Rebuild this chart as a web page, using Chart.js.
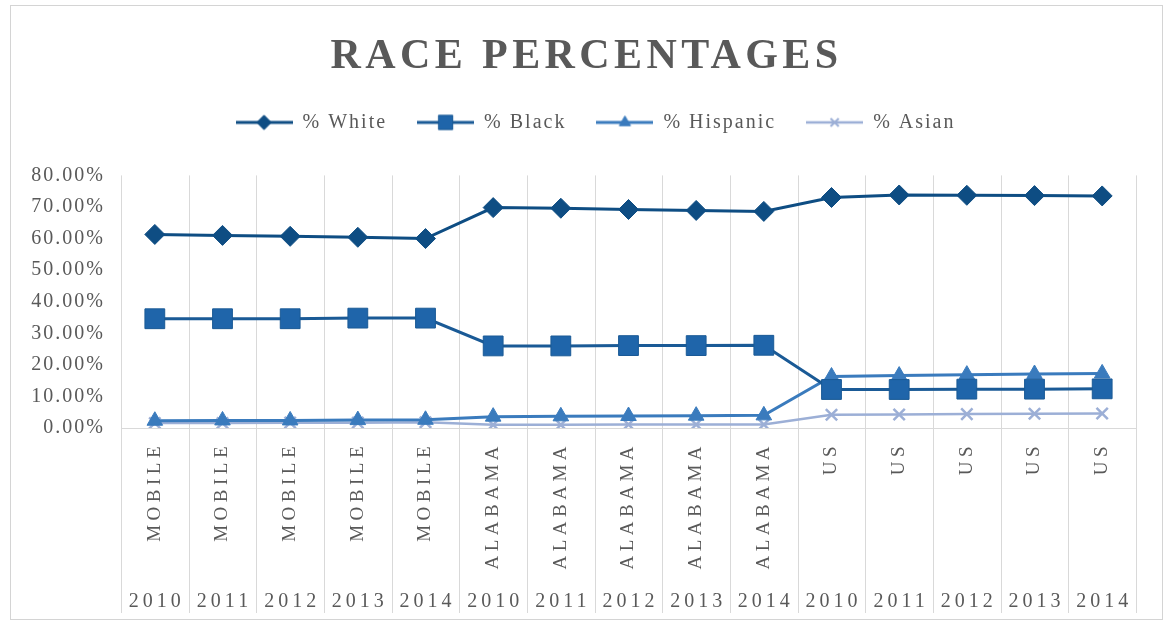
<!DOCTYPE html>
<html>
<head>
<meta charset="utf-8">
<script src="https://cdn.jsdelivr.net/npm/chart.js@4"></script>
<style>
    html, body { margin: 0; padding: 0; background: #fff; }
    .frame {
        position: absolute;
        left: 10px;
        top: 5px;
        width: 1153px;
        height: 615px;
        border: 1px solid #d4d4d4;
        box-sizing: border-box;
    }
    .frame canvas { display: block; }
</style>
</head>
<body>
<div class="frame"><canvas id="raceChart" width="1151" height="613"></canvas></div>
<script>
(function () {
    const places = ['MOBILE', 'MOBILE', 'MOBILE', 'MOBILE', 'MOBILE',
        'ALABAMA', 'ALABAMA', 'ALABAMA', 'ALABAMA', 'ALABAMA',
        'US', 'US', 'US', 'US', 'US'];
    const years = ['2010', '2011', '2012', '2013', '2014',
        '2010', '2011', '2012', '2013', '2014',
        '2010', '2011', '2012', '2013', '2014'];
    const yTicks = [0, 10, 20, 30, 40, 50, 60, 70, 80];

    const white = [61.3, 61.0, 60.7, 60.4, 60.0, 69.8, 69.6, 69.2, 68.9, 68.6, 73.0, 73.8, 73.7, 73.6, 73.5];
    const black = [34.6, 34.6, 34.6, 34.8, 34.8, 26.0, 26.0, 26.1, 26.1, 26.2, 12.2, 12.2, 12.3, 12.3, 12.4];
    const hispanic = [2.3, 2.4, 2.4, 2.5, 2.6, 3.6, 3.7, 3.8, 3.9, 4.0, 16.3, 16.6, 16.9, 17.1, 17.3];
    const asian = [1.6, 1.6, 1.7, 1.7, 1.8, 1.0, 1.0, 1.1, 1.1, 1.1, 4.2, 4.3, 4.4, 4.5, 4.6];

    const SERIF = "'Liberation Serif', 'DejaVu Serif', serif";
    const TEXT = '#595959';
    const GRID = '#d9d9d9';

    const series = [
        { label: '% White', data: white, color: '#0e4d83', fill: '#0e4d83', style: 'rectRot', radius: 10, width: 3 },
        { label: '% Black', data: black, color: '#1a5a96', fill: '#1f65aa', style: 'rect', radius: 14, width: 3 },
        { label: '% Hispanic', data: hispanic, color: '#3a7bbd', fill: '#3a7bbd', style: 'triangle', radius: 9, width: 3 },
        { label: '% Asian', data: asian, color: '#9cafd6', fill: '#9cafd6', style: 'crossRot', radius: 8, width: 2.5 }
    ];

    // small "line + marker" swatch for the legend, Excel style
    function legendSwatch(s) {
        const c = document.createElement('canvas');
        c.width = 57;
        c.height = 22;
        const ctx = c.getContext('2d');
        ctx.strokeStyle = s.color;
        ctx.lineWidth = s.width;
        ctx.beginPath();
        ctx.moveTo(0, 11);
        ctx.lineTo(57, 11);
        ctx.stroke();
        ctx.fillStyle = s.fill;
        ctx.strokeStyle = s.color;
        ctx.lineWidth = s.style === 'crossRot' ? 2 : 1;
        Chart.helpers.drawPoint(ctx, {
            pointStyle: s.style,
            radius: s.radius * 0.72,
            rotation: 0,
            borderWidth: ctx.lineWidth
        }, 28.5, 11);
        return c;
    }

    function shiftDraw(box, dx, spacingPx) {
        const draw = box.draw;
        box.draw = function () {
            const ctx = this.ctx;
            const prev = ctx.letterSpacing;
            ctx.save();
            ctx.translate(dx, 0);
            if (spacingPx) ctx.letterSpacing = spacingPx;
            draw.apply(this, arguments);
            ctx.restore();
            ctx.letterSpacing = prev;
        };
    }

    // letter spacing like the original, plus a few layout tweaks
    const spacing = {
        id: 'spacing',
        beforeInit(chart) {
            const fit = chart.legend.fit;
            chart.legend.fit = function () {
                fit.call(this);
                this.height += 33;
            };
            shiftDraw(chart.legend, 22, null);
            shiftDraw(chart.titleBlock, 13, '4.4px');
        },
        beforeLayout(chart) { chart.ctx.letterSpacing = '2px'; },
        beforeDraw(chart) { chart.ctx.letterSpacing = '2px'; }
    };

    const categoryGrid = {
        id: 'categoryGrid',
        beforeDatasetsDraw(chart) {
            const { ctx, chartArea, scales: { x } } = chart;
            ctx.save();
            ctx.strokeStyle = GRID;
            ctx.lineWidth = 1;
            for (let i = 0; i <= places.length; i++) {
                const px = Math.round(x.getPixelForValue(i - 0.5)) + 0.5;
                ctx.beginPath();
                ctx.moveTo(px, chartArea.top);
                ctx.lineTo(px, chartArea.bottom + 185);
                ctx.stroke();
            }
            ctx.restore();
        },
        afterDraw(chart) {
            const { ctx, chartArea, scales: { x } } = chart;
            ctx.save();
            ctx.fillStyle = TEXT;
            ctx.font = '19px ' + SERIF;
            ctx.letterSpacing = '4.5px';
            ctx.textAlign = 'right';
            ctx.textBaseline = 'middle';
            places.forEach((p, i) => {
                ctx.save();
                ctx.translate(x.getPixelForValue(i), chartArea.bottom + 14);
                ctx.rotate(-Math.PI / 2);
                ctx.fillText(p, 0, 0);
                ctx.restore();
            });
            ctx.font = '20px ' + SERIF;
            ctx.letterSpacing = '4px';
            ctx.textAlign = 'center';
            years.forEach((yr, i) => {
                ctx.fillText(yr, x.getPixelForValue(i) + 2, chartArea.bottom + 174);
            });
            ctx.restore();
        }
    };

    new Chart(document.getElementById('raceChart'), {
        type: 'line',
        data: {
            labels: places.map((p, i) => p + ' ' + years[i]),
            datasets: series.map(s => ({
                label: s.label,
                data: s.data,
                borderColor: s.color,
                backgroundColor: s.fill,
                borderWidth: s.width,
                tension: 0,
                pointStyle: s.style,
                pointRadius: s.radius,
                pointHoverRadius: s.radius,
                pointBackgroundColor: s.fill,
                pointBorderColor: s.color,
                pointBorderWidth: s.style === 'crossRot' ? 2.5 : 1
            }))
        },
        options: {
            responsive: false,
            animation: false,
            layout: { padding: { left: 0, right: 26, top: 0, bottom: 0 } },
            plugins: {
                title: {
                    display: true,
                    text: 'RACE PERCENTAGES',
                    color: TEXT,
                    font: { family: SERIF, size: 42, weight: 'bold' },
                    padding: { top: 26, bottom: 0 }
                },
                legend: {
                    display: true,
                    labels: {
                        color: TEXT,
                        font: { family: SERIF, size: 20 },
                        usePointStyle: true,
                        pointStyleWidth: 57,
                        padding: 30,
                        generateLabels: () => series.map((s, i) => ({
                            text: s.label,
                            datasetIndex: i,
                            pointStyle: legendSwatch(s),
                            fillStyle: s.fill,
                            strokeStyle: s.color,
                            lineWidth: 0,
                            fontColor: TEXT
                        }))
                    }
                },
                tooltip: { enabled: false }
            },
            scales: {
                x: {
                    type: 'category',
                    offset: true,
                    ticks: { display: false },
                    grid: { display: false, offset: true },
                    border: { display: true, color: GRID, width: 1 },
                    afterFit: scale => { scale.height = 191; }
                },
                y: {
                    min: 0,
                    max: 80,
                    afterBuildTicks: scale => { scale.ticks = yTicks.map(v => ({ value: v })); },
                    ticks: {
                        color: TEXT,
                        font: { family: SERIF, size: 20 },
                        padding: 16,
                        callback: v => v.toFixed(2) + '%'
                    },
                    grid: { display: false, drawTicks: false },
                    border: { display: false },
                    afterFit: scale => { scale.width = 110; }
                }
            }
        },
        plugins: [spacing, categoryGrid]
    });
})();
</script>
</body>
</html>
